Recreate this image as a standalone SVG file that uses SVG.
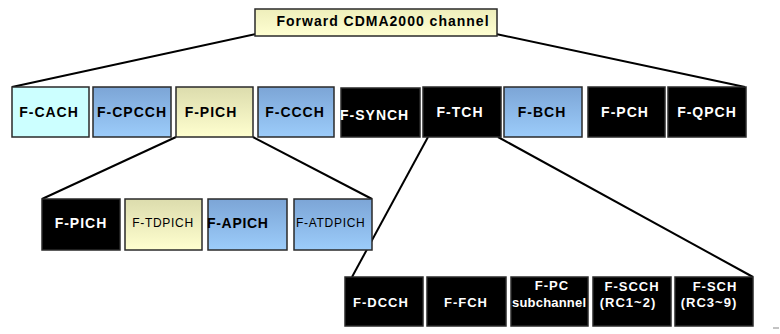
<svg xmlns="http://www.w3.org/2000/svg" width="780" height="334" viewBox="0 0 780 334">
<defs>
<linearGradient id="gBlue" x1="0" y1="0" x2="0" y2="1"><stop offset="0" stop-color="#7ca5d6"/><stop offset="1" stop-color="#9cccfa"/></linearGradient>
<linearGradient id="gYel" x1="0" y1="0" x2="0" y2="1"><stop offset="0" stop-color="#dcdcad"/><stop offset="1" stop-color="#ffffcf"/></linearGradient>
<linearGradient id="gTop" x1="0" y1="0" x2="0" y2="1"><stop offset="0" stop-color="#eeeebb"/><stop offset="1" stop-color="#ffffd2"/></linearGradient>
<style>
.n{stroke:#2a2a2a;stroke-width:1.5}
.blk{fill:#000}
.cyan{fill:#ccffff}
.blue{fill:url(#gBlue)}
.yel{fill:url(#gYel)}
text{font-family:"Liberation Sans",Arial,sans-serif;font-weight:bold;font-size:14px;letter-spacing:1px}
.w{fill:#fff}
.k{fill:#000}
.thin{font-weight:normal;font-size:12px;letter-spacing:0.7px}
.sm{font-size:13px}
.c{text-anchor:middle}
#connectors line{stroke:#000;stroke-width:2}
</style>
</defs>
<rect width="780" height="334" fill="#fff"/>
<g id="connectors">
<line x1="256" y1="34" x2="12" y2="87"/>
<line x1="496" y1="34" x2="745" y2="87"/>
<line x1="176" y1="137" x2="42" y2="199"/>
<line x1="253" y1="137" x2="372" y2="199"/>
<line x1="428" y1="137" x2="352" y2="277"/>
<line x1="498" y1="137" x2="753" y2="277"/>
<line x1="773" y1="328" x2="779" y2="328" style="stroke:#888;stroke-width:1"/>
</g>
<g id="root"><rect class="n" x="255" y="9" width="242" height="27" fill="url(#gTop)"/><text class="k c" x="383" y="26">Forward CDMA2000 channel</text></g>
<g id="f-cach"><rect class="n cyan" x="12" y="87" width="77" height="50"/><text class="k c" x="49" y="117">F-CACH</text></g>
<g id="f-cpcch"><rect class="n blue" x="93" y="87" width="78" height="50"/><text class="k c" x="132" y="117">F-CPCCH</text></g>
<g id="f-pich"><rect class="n yel" x="176" y="87" width="77" height="50"/><text class="k c" x="211" y="117">F-PICH</text></g>
<g id="f-ccch"><rect class="n blue" x="258" y="87" width="76" height="50"/><text class="k c" x="295" y="117">F-CCCH</text></g>
<g id="f-synch"><rect class="n blk" x="341" y="88" width="79" height="49"/><text class="w" x="340" y="120">F-SYNCH</text></g>
<g id="f-tch"><rect class="n blk" x="423" y="87" width="78" height="50"/><text class="w c" x="460" y="117">F-TCH</text></g>
<g id="f-bch"><rect class="n blue" x="504" y="87" width="78" height="50"/><text class="k c" x="542" y="117">F-BCH</text></g>
<g id="f-pch"><rect class="n blk" x="588" y="87" width="77" height="50"/><text class="w c" x="625" y="117">F-PCH</text></g>
<g id="f-qpch"><rect class="n blk" x="668" y="87" width="78" height="50"/><text class="w c" x="707" y="117">F-QPCH</text></g>
<g id="f-pich2"><rect class="n blk" x="42" y="199" width="78" height="51"/><text class="w c" x="81" y="228">F-PICH</text></g>
<g id="f-tdpich"><rect class="n yel" x="125" y="199" width="77" height="51"/><text class="k c thin" x="163" y="227">F-TDPICH</text></g>
<g id="f-apich"><rect class="n blue" x="208" y="199" width="79" height="51"/><text class="k" x="207" y="228" style="letter-spacing:0.7px">F-APICH</text></g>
<g id="f-atdpich"><rect class="n blue" x="294" y="199" width="78" height="51"/><text class="k thin" x="296" y="227">F-ATDPICH</text></g>
<g id="f-dcch"><rect class="n blk" x="345" y="277" width="78" height="49"/><text class="w c sm" x="381" y="307">F-DCCH</text></g>
<g id="f-fch"><rect class="n blk" x="427" y="277" width="79" height="49"/><text class="w c sm" x="466" y="307">F-FCH</text></g>
<g id="f-pc"><rect class="n blk" x="511" y="277" width="77" height="49"/><text class="w c sm" x="552" y="290">F-PC</text><text class="w sm" x="512" y="307" style="letter-spacing:0.2px">subchannel</text></g>
<g id="f-scch"><rect class="n blk" x="593" y="277" width="78" height="49"/><text class="w c sm" x="632" y="291">F-SCCH</text><text class="w c sm" x="628" y="307">(RC1~2)</text></g>
<g id="f-sch"><rect class="n blk" x="675" y="277" width="78" height="49"/><text class="w c sm" x="715" y="291">F-SCH</text><text class="w c sm" x="709" y="307">(RC3~9)</text></g>
</svg>
